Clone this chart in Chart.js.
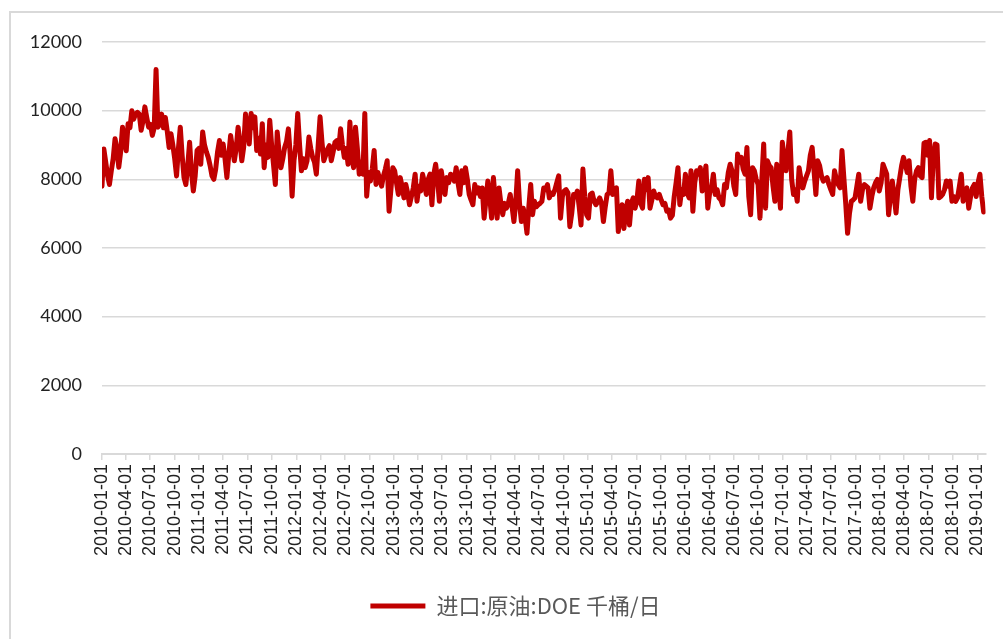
<!DOCTYPE html>
<html>
<head>
<meta charset="utf-8">
<script src="https://cdn.jsdelivr.net/npm/chart.js@4.4.1/dist/chart.umd.min.js"></script>
<style>
    html, body { margin: 0; padding: 0; background: #fff; }
    #wrap { position: relative; width: 1003px; height: 639px; overflow: hidden; }
    #frame { position: absolute; left: 9px; top: 11px; width: 1100px; height: 700px; border: 2px solid #d9d9d9; }
    #chart { position: absolute; left: 0; top: 0; }
</style>
</head>
<body>
<div id="wrap">
    <div id="frame"></div>
    <canvas id="chart" width="1003" height="639"></canvas>
</div>
<script>
// weekly series, first week 2010-01-01
const startDate = '2010-01-01';
const seriesName = '进口:原油:DOE 千桶/日';

// 千桶/日, one value per week
const imports = [
    7800, 8880, 8500, 8100, 7850, 8250, 8600, 9180, 8900, 8350,
    8800, 9520, 9100, 8830, 9620, 9500, 10000, 9750, 9900, 9950,
    9900, 9430, 9700, 10110, 9800, 9520, 9600, 9280, 9500, 11200,
    9520, 9600, 9900, 9500, 9800, 9400, 8930, 9330, 9000, 8600,
    8100, 8900, 9520, 8700, 8050, 7850, 8400, 9080, 8200, 7660,
    8100, 8840, 8900, 8440, 9380, 9000, 8800, 8640, 8400, 8100,
    8000, 8300, 8800, 9130, 8700, 9030, 8600, 8050, 8700, 9280,
    8900, 8540, 8900, 9520, 9100, 8540, 8930, 9900, 9500, 9030,
    9920, 9500, 9820, 8840, 9200, 8740, 9620, 8340, 9000, 8640,
    9720, 9000, 8440, 7850, 9380, 8800, 8340, 8600, 8930, 9100,
    9470, 8700, 7510, 8540, 9000, 9920, 9000, 8250, 8600, 8340,
    8540, 9230, 8900, 8640, 8500, 8150, 9000, 9820, 9100, 8540,
    8700, 8880, 8980, 8540, 8800, 9080, 9130, 8900, 9470, 9000,
    8640, 8900, 8440, 9670, 8600, 8340, 9520, 8900, 8150, 8500,
    8150, 9920, 7510, 8200, 7950, 8300, 8840, 7850, 8200, 8000,
    7800, 8100, 8300, 8540, 7070, 7700, 8340, 8250, 7900, 7560,
    8050, 7800, 7460, 7850, 7600, 7260, 7500, 7750, 8150, 7360,
    7800, 7660, 8150, 7900, 7560, 8000, 8150, 7260, 8150, 8440,
    8000, 7360, 8250, 7900, 7560, 8050, 7900, 8150, 8100, 7950,
    8340, 7900, 7560, 8250, 7900, 8340, 8000, 7560, 7400, 7260,
    7850, 7600, 7750, 7500, 7750, 6870, 7400, 7950, 7500, 6870,
    8050, 7400, 6870, 7750, 7300, 6970, 7300, 7160, 7300, 7560,
    7200, 6770, 7360, 8250, 7300, 6770, 7160, 6900, 6430, 7200,
    7850, 6970, 7360, 7200, 7260, 7300, 7360, 7750, 7700, 7850,
    7460, 7600, 7560, 7700, 7900, 8100, 6870, 7500, 7660, 7700,
    7600, 6620, 7000, 7560, 7500, 7660, 7200, 6670, 8300, 7500,
    6970, 6870, 7560, 7600, 7360, 7260, 7350, 7460, 7300, 6770,
    7200, 7560, 7600, 8250, 7560, 7600, 7750, 6480, 7000, 7260,
    6570, 7100, 7360, 6670, 7300, 7460, 7160, 7400, 7950, 7300,
    7160, 8000, 7700, 8050, 7160, 7400, 7660, 7500, 7460, 7560,
    7400, 7260, 7300, 7070, 7100, 6870, 6950, 7500, 7900, 8340,
    7260, 7700, 7560, 8150, 7600, 7460, 8250, 7070, 7900, 8250,
    8150, 8340, 7660, 8000, 8390, 7160, 7600, 7750, 8150, 7560,
    7700, 7460, 7400, 7260, 7850, 7750, 8200, 8440, 8250, 7800,
    7560, 8740, 8500, 8640, 8300, 8150, 8930, 7500, 6970, 8340,
    8250, 8000, 7850, 6870, 8000, 9030, 7160, 8540, 8400, 8340,
    7800, 7360, 8440, 7800, 7160, 9080, 8600, 8250, 8800, 9380,
    8000, 7560, 7700, 7360, 8340, 8000, 7750, 7950, 8100, 8250,
    8700, 8930, 8250, 7560, 8540, 8400, 8100, 7950, 8000, 8050,
    7850, 7700, 7560, 8250, 8000, 7850, 7750, 8840, 8050, 7300,
    6430, 7000, 7360, 7400, 7460, 7800, 8150, 7360, 7700, 7850,
    7800, 7750, 7160, 7500, 7750, 7900, 8000, 7660, 7900, 8440,
    8300, 8150, 6970, 7500, 7950, 7500, 7020, 7700, 8050, 8400,
    8640, 8440, 8200, 8540, 7800, 7360, 8000, 8250, 8340, 8100,
    8050, 9050, 9080, 8700, 9130, 7460, 8640, 9030, 9000, 7460,
    7500, 7560, 7700, 7950, 7800, 7950, 7360, 7500, 7360, 7460,
    7800, 8150, 7360, 7600, 7750, 7160, 7500, 7750, 7850, 7500,
    7900, 8150, 7500, 7050
];

// quarterly labels on the date axis
const tickLabels = [
    '2010-01-01', '2010-04-01', '2010-07-01', '2010-10-01',
    '2011-01-01', '2011-04-01', '2011-07-01', '2011-10-01',
    '2012-01-01', '2012-04-01', '2012-07-01', '2012-10-01',
    '2013-01-01', '2013-04-01', '2013-07-01', '2013-10-01',
    '2014-01-01', '2014-04-01', '2014-07-01', '2014-10-01',
    '2015-01-01', '2015-04-01', '2015-07-01', '2015-10-01',
    '2016-01-01', '2016-04-01', '2016-07-01', '2016-10-01',
    '2017-01-01', '2017-04-01', '2017-07-01', '2017-10-01',
    '2018-01-01', '2018-04-01', '2018-07-01', '2018-10-01',
    '2019-01-01'
];

const yTicks = [0, 2000, 4000, 6000, 8000, 10000, 12000];

const DAY = 86400000;
const dayOf = (s) => (Date.parse(s) - Date.parse(startDate)) / DAY;

// days since start -> label text
const tickByDay = {};
tickLabels.forEach(l => tickByDay[dayOf(l)] = l);

const points = imports.map((v, i) => ({ x: i * 7, y: v }));

const grey = '#d9d9d9';
const textColor = '#595959';

// the legend sits a bit right of the plot centre in the original
const legendShift = {
    id: 'legendShift',
    afterLayout: (chart) => {
        chart.legend.left += 17;
        chart.legend.right += 17;
    }
};

new Chart(document.getElementById('chart').getContext('2d'), {
    type: 'line',
    data: {
        datasets: [{
            label: seriesName,
            data: points,
            borderColor: '#c00000',
            backgroundColor: '#c00000',
            borderWidth: 5,
            borderCapStyle: 'round',
            borderJoinStyle: 'round',
            pointRadius: 0,
            tension: 0,
            fill: false
        }]
    },
    options: {
        responsive: false,
        animation: false,
        events: [],
        layout: {
            padding: { left: 10, right: 16, top: 42, bottom: 12 }
        },
        scales: {
            x: {
                type: 'linear',
                min: 0,
                max: 3318,
                afterBuildTicks: (axis) => {
                    axis.ticks = tickLabels.map(l => ({ value: dayOf(l) }));
                },
                afterFit: (scale) => { scale.height = 131; },
                grid: {
                    drawOnChartArea: false,
                    drawTicks: true,
                    tickLength: 6,
                    color: grey,
                    lineWidth: 1.5
                },
                border: { display: true, color: grey, width: 2 },
                ticks: {
                    autoSkip: false,
                    minRotation: 90,
                    maxRotation: 90,
                    padding: 4,
                    color: '#222',
                    font: { family: 'Liberation Sans', size: 18 },
                    callback: (v) => tickByDay[v] || ''
                }
            },
            y: {
                min: 0,
                max: 12000,
                afterBuildTicks: (axis) => {
                    axis.ticks = yTicks.map(v => ({ value: v }));
                },
                afterFit: (scale) => { scale.width = 92; },
                grid: { color: grey, lineWidth: 1.5, drawTicks: false },
                border: { display: false },
                ticks: {
                    padding: 20,
                    color: '#222',
                    font: { family: 'Lato', size: 18 },
                    callback: (v) => String(v)
                }
            }
        },
        plugins: {
            legend: {
                position: 'bottom',
                labels: {
                    usePointStyle: true,
                    pointStyle: 'line',
                    pointStyleWidth: 55,
                    padding: 10,
                    color: textColor,
                    font: { family: 'Noto Sans CJK SC', size: 22 }
                }
            },
            tooltip: { enabled: false }
        }
    },
    plugins: [legendShift]
});
</script>
</body>
</html>
